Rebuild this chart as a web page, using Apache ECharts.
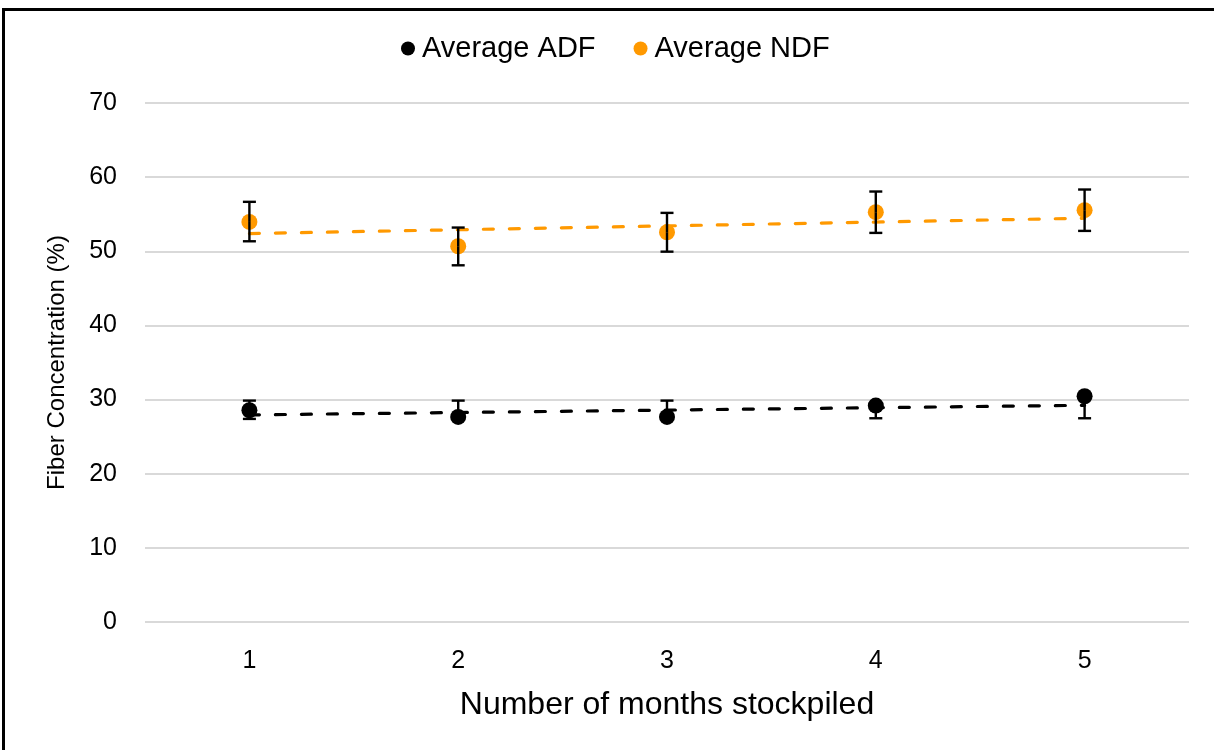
<!DOCTYPE html>
<html>
<head>
<meta charset="utf-8">
<script src="https://cdn.jsdelivr.net/npm/echarts@6/dist/echarts.min.js"></script>
<style>
html,body{margin:0;padding:0;background:#fff;}
#chart{width:1214px;height:750px;}
</style>
</head>
<body>
<div id="chart"></div>
<script>
const categories = ['1', '2', '3', '4', '5'];
const adfMean = [28.56, 27.66, 27.66, 29.19, 30.45];
const adfHigh = [29.86, 29.86, 29.86, 29.19, 30.45];
const adfLow  = [27.39, 27.66, 27.66, 27.48, 27.48];
const ndfMean = [53.96, 50.68, 52.57, 55.27, 55.54];
const ndfHigh = [56.67, 53.20, 55.18, 58.06, 58.33];
const ndfLow  = [51.35, 48.11, 49.95, 52.48, 52.75];
const adfTrend = [27.93, 29.23];   // trend line at month 1 and month 5
const ndfTrend = [52.39, 54.46];
const yTicks = [0, 10, 20, 30, 40, 50, 60, 70];

const FONT = '"Liberation Sans", Arial, sans-serif';
const ORANGE = '#FF9900';

function errData(high, low) {
  return categories.map((c, i) => [i, low[i], high[i]]);
}
function errRenderFactory(mean) {
  return function (params, api) {
    const i = api.value(0);
    const lowV = api.value(1), highV = api.value(2);
    const m = mean[i];
    const lo = api.coord([i, lowV]);
    const hi = api.coord([i, highV]);
    const mc = api.coord([i, m]);
    const cap = 6.5;
    const style = { stroke: '#000', lineWidth: 2.4 };
    const children = [];
    if (highV > m + 0.01) {
      children.push({ type: 'line', shape: { x1: mc[0], y1: mc[1], x2: hi[0], y2: hi[1] }, style: style });
      children.push({ type: 'line', shape: { x1: hi[0] - cap, y1: hi[1], x2: hi[0] + cap, y2: hi[1] }, style: style });
    }
    if (lowV < m - 0.01) {
      children.push({ type: 'line', shape: { x1: mc[0], y1: mc[1], x2: lo[0], y2: lo[1] }, style: style });
      children.push({ type: 'line', shape: { x1: lo[0] - cap, y1: lo[1], x2: lo[0] + cap, y2: lo[1] }, style: style });
    }
    return { type: 'group', children: children };
  };
}

const chart = echarts.init(document.getElementById('chart'), null, { renderer: 'canvas' });
chart.setOption({
  backgroundColor: '#fff',
  animation: false,
  textStyle: { fontFamily: FONT },
  graphic: [{
    type: 'rect',
    shape: { x: 3.5, y: 9.5, width: 1230, height: 800 },
    style: { fill: 'none', stroke: '#000', lineWidth: 3 },
    z: 100
  }],
  legend: {
    top: 29,
    left: 396,
    data: ['Average ADF', 'Average NDF'],
    icon: 'circle',
    itemWidth: 14,
    itemHeight: 14,
    itemGap: 38,
    textStyle: { fontSize: 29, color: '#000', fontFamily: FONT, padding: [0, 0, 0, 2] }
  },
  grid: { left: 145, right: 25, top: 103, bottom: 128 },
  xAxis: {
    type: 'category',
    data: categories,
    boundaryGap: true,
    axisLine: { show: false },
    axisTick: { show: false },
    axisLabel: { fontSize: 25, color: '#000', margin: 27, fontFamily: FONT },
    name: 'Number of months stockpiled',
    nameLocation: 'middle',
    nameGap: 67,
    nameTextStyle: { fontSize: 32, color: '#000', fontFamily: FONT },
    splitLine: { show: false }
  },
  yAxis: {
    type: 'value',
    min: 0,
    max: 70,
    interval: 10,
    axisLine: { show: false },
    axisTick: { show: false },
    axisLabel: { fontSize: 25, color: '#000', margin: 28, fontFamily: FONT,
      formatter: v => yTicks.includes(v) ? String(v) : '' },
    splitLine: { lineStyle: { color: '#d9d9d9', width: 2 } },
    name: 'Fiber Concentration (%)',
    nameLocation: 'middle',
    nameGap: 76,
    nameRotate: 90,
    nameTextStyle: { fontSize: 24, color: '#000', fontFamily: FONT }
  },
  series: [
    {
      name: 'Average ADF', type: 'scatter', data: adfMean,
      symbol: 'circle', symbolSize: 16, itemStyle: { color: '#000', opacity: 1 }, z: 2
    },
    {
      name: 'Average NDF', type: 'scatter', data: ndfMean,
      symbol: 'circle', symbolSize: 16, itemStyle: { color: ORANGE, opacity: 1 }, z: 2
    },
    {
      name: 'ADF trend', type: 'line', data: [[0, adfTrend[0]], [categories.length - 1, adfTrend[1]]],
      showSymbol: false, symbol: 'none',
      lineStyle: { color: '#000', width: 3.2, type: [10, 16], cap: 'round' }, z: 3
    },
    {
      name: 'NDF trend', type: 'line', data: [[0, ndfTrend[0]], [categories.length - 1, ndfTrend[1]]],
      showSymbol: false, symbol: 'none',
      lineStyle: { color: ORANGE, width: 3.2, type: [10, 16], cap: 'round' }, z: 3
    },
    {
      name: 'ADF err', type: 'custom', data: errData(adfHigh, adfLow),
      renderItem: errRenderFactory(adfMean), z: 4
    },
    {
      name: 'NDF err', type: 'custom', data: errData(ndfHigh, ndfLow),
      renderItem: errRenderFactory(ndfMean), z: 4
    }
  ]
});
</script>
</body>
</html>
